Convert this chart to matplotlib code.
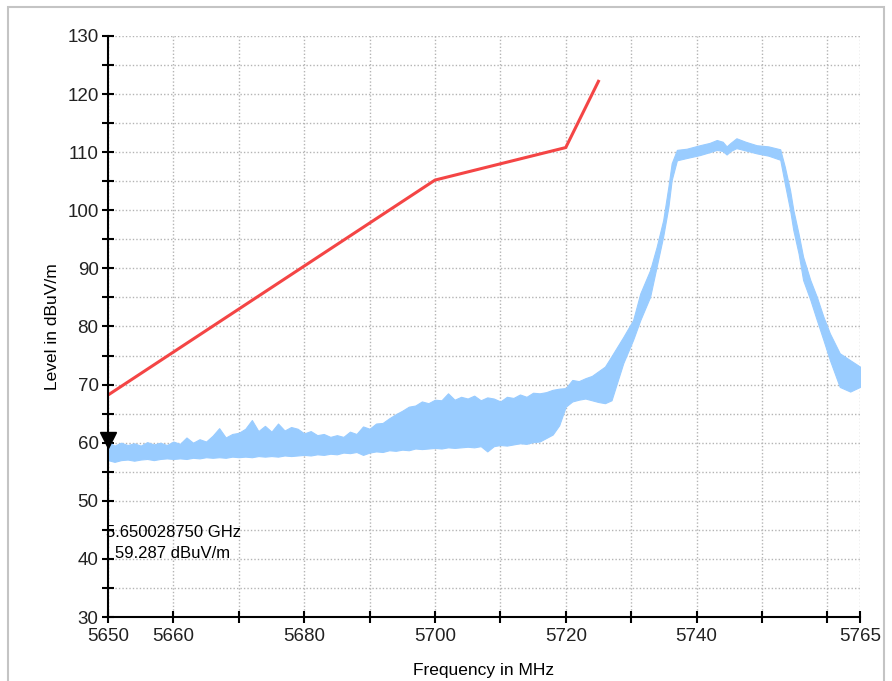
import matplotlib.pyplot as plt
from matplotlib.patches import Rectangle
from matplotlib import transforms

# limit line (dBuV/m)
limit_freq = [5650, 5700, 5720, 5725]
limit_level = [68.2, 105.2, 110.8, 122.2]

# measured trace, read as upper / lower envelope of the noisy band
# noise floor part, 1 MHz steps 5650..5727
floor_freq = list(range(5650, 5728))
floor_hi = [60.2, 59.5, 60.0, 59.6, 59.9, 59.5, 60.1, 59.7, 60.0, 59.6,
            60.2, 59.8, 60.9, 60.0, 60.6, 60.2, 61.2, 62.5, 60.9, 61.5,
            61.7, 62.4, 63.9, 62.0, 62.9, 61.9, 63.3, 62.1, 62.7, 62.4,
            61.6, 62.0, 61.3, 61.5, 61.0, 61.3, 61.0, 61.9, 61.5, 62.8,
            62.4, 63.3, 63.4, 64.2, 64.9, 65.5, 66.2, 66.4, 67.1, 66.8,
            67.4, 67.3, 68.5, 67.4, 67.9, 67.6, 68.1, 67.3, 67.8, 67.6,
            67.1, 67.9, 67.7, 68.3, 67.9, 68.6, 68.5, 68.7, 69.1, 69.3,
            69.4, 70.8, 70.6, 71.1, 71.5, 72.3, 73.1, 74.9]
floor_lo = [57.0, 56.7, 57.0, 57.1, 56.9, 57.1, 57.2, 57.0, 57.2, 57.3,
            57.2, 57.3, 57.2, 57.4, 57.3, 57.5, 57.4, 57.5, 57.4, 57.6,
            57.5, 57.6, 57.5, 57.7, 57.6, 57.7, 57.6, 57.8, 57.7, 57.8,
            57.9, 57.8, 58.0, 57.9, 58.1, 58.0, 58.3, 58.2, 58.4, 57.9,
            58.3, 58.5, 58.4, 58.7, 58.6, 58.8, 58.7, 59.0, 58.9, 59.0,
            59.1, 59.0, 59.2, 59.1, 59.2, 59.3, 59.2, 59.4, 58.5, 59.4,
            59.6, 59.5, 59.7, 59.9, 59.8, 60.1, 60.2, 60.8, 61.4, 63.0,
            66.2, 67.1, 67.4, 67.6, 67.3, 67.0, 66.8, 67.3]
# emission part
band_freq = [5728.8, 5730.3, 5731.4, 5732.9, 5733.9, 5734.9, 5735.7, 5736.2, 5737.0, 5738.5,
             5740.5, 5742.0, 5743.1, 5744.0, 5744.6, 5745.2, 5746.1, 5747.5, 5749.2, 5751.0,
             5752.8, 5753.5, 5754.3, 5754.8, 5755.6, 5756.3, 5757.4, 5758.4, 5759.4, 5760.4,
             5761.9, 5763.5, 5765.0]
band_hi = [78.2, 81.1, 85.7, 89.7, 93.7, 98.3, 104.1, 108.1, 110.4, 110.6,
           111.2, 111.6, 112.1, 111.8, 111.0, 111.6, 112.4, 111.8, 111.2, 111.0,
           110.5, 107.5, 103.5, 100.1, 96.0, 92.0, 88.0, 85.1, 81.7, 78.8,
           75.4, 74.2, 73.1]
band_lo = [73.7, 77.7, 81.1, 85.1, 90.3, 95.5, 100.6, 105.2, 108.6, 109.0,
           109.5, 110.0, 110.4, 110.2, 109.6, 110.2, 110.7, 110.3, 109.8, 109.4,
           108.7, 104.6, 100.1, 96.6, 92.6, 88.0, 84.6, 81.1, 77.7, 74.2,
           69.6, 68.8, 69.6]

marker_freq = 5650.028750  # MHz
marker_level = 59.287

x_ticks = [5650, 5660, 5670, 5680, 5690, 5700, 5710, 5720, 5730, 5740, 5750, 5760, 5765]
x_labels = ['5650', '5660', '', '5680', '', '5700', '', '5720', '', '5740', '', '', '5765']
y_major = list(range(30, 131, 10))
y_minor = list(range(35, 130, 10))

trace_freq = floor_freq + band_freq
trace_hi = floor_hi + band_hi
trace_lo = floor_lo + band_lo

font = ['Liberation Sans', 'DejaVu Sans']

fig = plt.figure(figsize=(8.92, 6.81), dpi=100)
ax = fig.add_axes([108 / 892, 64 / 681, 752 / 892, 581 / 681])

# window border
fig.patches.append(Rectangle((8 / 892, -0.1), 876 / 892, 1.1 - 7 / 681,
                             transform=fig.transFigure, fill=False,
                             edgecolor='#c4c4c4', linewidth=1.5))

ax.fill_between(trace_freq, trace_lo, trace_hi, color='#99ccff', linewidth=0.8,
                edgecolor='#99ccff', zorder=2)
ax.plot(limit_freq, limit_level, color='#f44545', linewidth=2.2, zorder=3)

# marker
tri = transforms.offset_copy(ax.transData, fig=fig, x=0, y=7, units='dots')
ax.plot([marker_freq], [marker_level], marker='v', color='black', markersize=12,
        transform=tri, clip_on=False, zorder=5)
ax.text(-0.003, 0.145, f'{marker_freq / 1000:.9f} GHz', transform=ax.transAxes,
        family=font, fontsize=12, va='center', ha='left', zorder=6)
ax.text(0.0093, 0.110, f'{marker_level:.3f} dBuV/m', transform=ax.transAxes,
        family=font, fontsize=12, va='center', ha='left', zorder=6)

ax.set_xlim(5650, 5765)
ax.set_ylim(30, 130)
ax.set_xticks(x_ticks)
ax.set_xticklabels(x_labels)
ax.set_yticks(y_major)
ax.set_yticks(y_minor, minor=True)

for s in ['top', 'right']:
    ax.spines[s].set_visible(False)
for s in ['left', 'bottom']:
    ax.spines[s].set_linewidth(1.5)
    ax.spines[s].set_zorder(4)

ax.tick_params(which='both', direction='inout', length=8.5, width=1.5, color='black')
ax.tick_params(axis='x', pad=4)
ax.tick_params(axis='y', pad=2.5)
for lab in ax.get_xticklabels() + ax.get_yticklabels():
    lab.set_family(font)
    lab.set_fontsize(13.5)
    lab.set_color('#222222')

ax.grid(True, which='both', linestyle=(0, (1, 1.5)), color='#b4b4b4', linewidth=1.0)
ax.set_axisbelow(True)

ax.set_ylabel('Level in dBuV/m', family=font, fontsize=12.5)
ax.yaxis.set_label_coords(-0.064, 0.5)
ax.set_xlabel('Frequency in MHz', family=font, fontsize=12.5)
ax.xaxis.set_label_coords(0.5, -0.079)

fig.savefig('out.png', dpi=100)
